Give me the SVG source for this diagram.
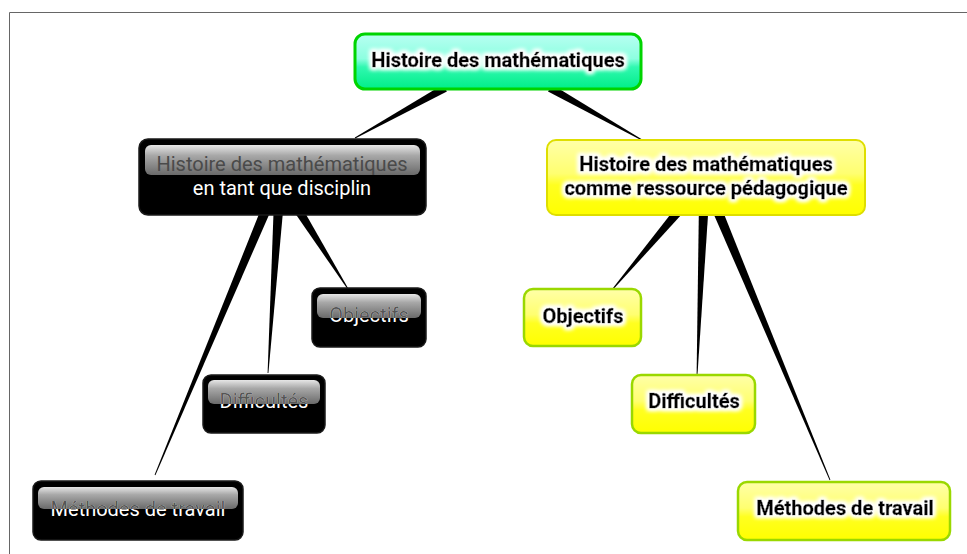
<svg xmlns="http://www.w3.org/2000/svg" width="967" height="554" viewBox="0 0 967 554">
<style>
.b{font-family:Roboto,"Liberation Sans",sans-serif;font-weight:bold;font-size:20px;fill:#000;stroke:#000;stroke-width:0.5;text-anchor:middle}
.r{font-family:Roboto,"Liberation Sans",sans-serif;font-size:20px;text-anchor:middle}
.blk{fill:#000;stroke:#1a1a1a;stroke-width:1.5}
.gl{fill:url(#gloss)}
.yl{fill:url(#yel);stroke:#9ad800;stroke-width:2.5}
.wedge{fill:#000}
</style>
<defs>
<linearGradient id="gloss" x1="0" y1="0" x2="0" y2="1">
<stop offset="0" stop-color="#e6e6e6"/><stop offset="0.35" stop-color="#a8a8a8"/><stop offset="1" stop-color="#6a6a6a"/>
</linearGradient>
<linearGradient id="green" x1="0" y1="0" x2="0" y2="1">
<stop offset="0" stop-color="#b8fff2"/><stop offset="0.45" stop-color="#8dffe0"/><stop offset="0.6" stop-color="#30f8b0"/><stop offset="1" stop-color="#00ee88"/>
</linearGradient>
<linearGradient id="yel" x1="0" y1="0" x2="0" y2="1">
<stop offset="0" stop-color="#ffffa8"/><stop offset="0.45" stop-color="#ffff70"/><stop offset="0.6" stop-color="#ffff20"/><stop offset="1" stop-color="#ffff00"/>
</linearGradient>
<filter id="halo" x="-10%" y="-40%" width="120%" height="180%">
<feMorphology in="SourceAlpha" operator="dilate" radius="1.5" result="d"/>
<feGaussianBlur in="d" stdDeviation="2.2" result="bl"/>
<feFlood flood-color="#ffffff"/>
<feComposite in2="bl" operator="in" result="g"/>
<feMerge><feMergeNode in="g"/><feMergeNode in="g"/><feMergeNode in="SourceGraphic"/></feMerge>
</filter>
<clipPath id="c1"><rect x="317" y="294" width="104" height="24"/></clipPath>
<clipPath id="c2"><rect x="208" y="380" width="112" height="24"/></clipPath>
<clipPath id="c3"><rect x="38" y="487" width="200" height="22"/></clipPath>
</defs>
<rect width="967" height="554" fill="#fff"/>
<path d="M9.5 554V12.5H967" fill="none" stroke="#666" stroke-width="1"/>
<g id="connectors">
<polygon class="wedge" points="446.9,91.5 443.1,84.5 354.8,137.6 355.2,138.4"/>
<polygon class="wedge" points="548,91.5 552,84.5 642.2,139.6 641.8,140.4"/>
<polygon class="wedge" points="274.6,201.9 265.4,198.1 154.6,474.8 155.4,475.2"/>
<polygon class="wedge" points="284,200.3 274,199.7 267.6,373 268.4,373"/>
<polygon class="wedge" points="296.2,197.3 287.8,202.7 347.6,289.2 348.4,288.8"/>
<polygon class="wedge" points="691.8,203.2 684.2,196.8 611.6,289.7 612.4,290.3"/>
<polygon class="wedge" points="709,200 699,200 696.6,376 697.4,376"/>
<polygon class="wedge" points="717.6,198.1 708.4,201.9 829.6,480.2 830.4,479.8"/>
</g>
<g id="root">
<rect x="355" y="34" width="286" height="55" rx="10" fill="url(#green)" stroke="#00d400" stroke-width="3"/>
<text class="b" x="498" y="67" filter="url(#halo)">Histoire des mathématiques</text>
</g>
<g id="left">
<rect class="blk" x="139" y="139" width="287" height="76" rx="9"/>
<rect class="gl" x="145" y="145" width="275" height="30" rx="6"/>
<text class="r" x="282" y="171" fill="#4a4a4a">Histoire des mathématiques</text>
<text class="r" x="282" y="195" fill="#fff">en tant que disciplin</text>
</g>
<g id="right">
<rect x="547" y="140" width="318" height="75" rx="9" fill="url(#yel)" stroke="#dede00" stroke-width="2"/>
<text class="b" x="706" y="171" filter="url(#halo)">Histoire des mathématiques</text>
<text class="b" x="706" y="195" filter="url(#halo)">comme ressource pédagogique</text>
</g>
<g id="l-objectifs">
<rect class="blk" x="312" y="288" width="114" height="59" rx="8"/>
<rect class="gl" x="317" y="294" width="104" height="24" rx="6"/>
<text class="r" x="369" y="322" fill="#fff">Objectifs</text>
<text class="r" x="369" y="322" fill="#555" clip-path="url(#c1)">Objectifs</text>
</g>
<g id="l-difficultes">
<rect class="blk" x="203" y="375" width="122" height="58" rx="8"/>
<rect class="gl" x="208" y="380" width="112" height="24" rx="6"/>
<text class="r" x="264" y="408" fill="#fff">Difficultés</text>
<text class="r" x="264" y="408" fill="#555" clip-path="url(#c2)">Difficultés</text>
</g>
<g id="l-methodes">
<rect class="blk" x="33" y="481" width="210" height="59" rx="8"/>
<rect class="gl" x="38" y="487" width="200" height="22" rx="6"/>
<text class="r" x="138" y="516" fill="#fff">Méthodes de travail</text>
<text class="r" x="138" y="516" fill="#555" clip-path="url(#c3)">Méthodes de travail</text>
</g>
<g id="r-objectifs">
<rect class="yl" x="524" y="289" width="117" height="57" rx="9"/>
<text class="b" x="583" y="323" filter="url(#halo)">Objectifs</text>
</g>
<g id="r-difficultes">
<rect class="yl" x="632" y="375" width="123" height="58" rx="9"/>
<text class="b" x="694" y="408" filter="url(#halo)">Difficultés</text>
</g>
<g id="r-methodes">
<rect class="yl" x="738" y="482" width="212" height="58" rx="9"/>
<text class="b" x="845" y="515" filter="url(#halo)">Méthodes de travail</text>
</g>
</svg>
